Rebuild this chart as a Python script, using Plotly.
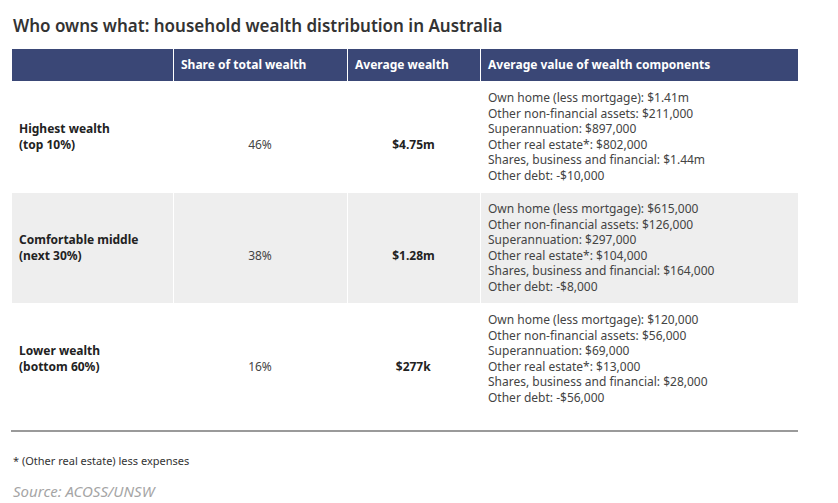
import plotly.graph_objects as go

W, H = 830, 495
OX, OY = 8, 8  # page body margin offset

# ---- data ----
groups = ["Highest wealth<br>(top 10%)", "Comfortable middle<br>(next 30%)", "Lower wealth<br>(bottom 60%)"]
share = ["46%", "38%", "16%"]
avg_wealth = ["$4.75m", "$1.28m", "$277k"]
comp_labels = ["Own home (less mortgage)", "Other non-financial assets", "Superannuation",
               "Other real estate*", "Shares, business and financial", "Other debt"]
comp_top = ["$1.41m", "$211,000", "$897,000", "$802,000", "$1.44m", "-$10,000"]
comp_mid = ["$615,000", "$126,000", "$297,000", "$104,000", "$164,000", "-$8,000"]
comp_low = ["$120,000", "$56,000", "$69,000", "$13,000", "$28,000", "-$56,000"]
headers = ["", "Share of total wealth", "Average wealth", "Average value of wealth components"]

title = "Who owns what: household wealth distribution in Australia"
footnote = "* (Other real estate) less expenses"
source = "Source: ACOSS/UNSW"

FONT = "Noto Sans"
SP = "\u00a0<br>"

def comp_text(vals):
    return "<br>".join(f"{l}: {v}" for l, v in zip(comp_labels, vals))

col_group = [SP * 2 + "<b>" + g + "</b>" for g in groups]
col_share = [SP * 3 + s for s in share]
col_avg = [SP * 3 + "<b>" + a + "</b>" for a in avg_wealth]
col_comp = [comp_text(c) for c in (comp_top, comp_mid, comp_low)]

fills = ["#ffffff", "#eeeeee", "#ffffff"]

col_w = [162, 174, 133, 318]
x0, x1 = 11 - OX, 798 - OX

def py(y):
    return 1 - (y - OY) / H

fig = go.Figure(go.Table(
    domain=dict(x=[x0 / W, x1 / W], y=[py(428), py(48)]),
    columnwidth=col_w,
    header=dict(
        values=["<b>" + h + "</b>" if h else "" for h in headers],
        fill_color="#3a4776",
        line=dict(color="white", width=1),
        font=dict(family=FONT, size=12, color="white"),
        align="left",
        height=27,
    ),
    cells=dict(
        values=[col_group, col_share, col_avg, col_comp],
        fill_color=[fills] * 4,
        line=dict(color="white", width=1),
        font=dict(family=FONT, size=12, color=["#222222", "#444444", "#222222", "#444444"]),
        align=["left", "center", "center", "left"],
        height=60,
    ),
))

fig.add_shape(type="line", xref="paper", yref="paper",
              x0=x0 / W, x1=x1 / W, y0=py(431), y1=py(431),
              line=dict(color="#9a9a9a", width=2))

fig.add_annotation(text=title, xref="paper", yref="paper", x=x0 / W, y=py(25),
                   xanchor="left", yanchor="middle", showarrow=False,
                   font=dict(family=FONT, size=17, color="#333333", weight=600))
fig.add_annotation(text=footnote, xref="paper", yref="paper", x=x0 / W, y=py(460),
                   xanchor="left", yanchor="middle", showarrow=False,
                   font=dict(family=FONT, size=11, color="#333333"))
fig.add_annotation(text="<i>" + source + "</i>", xref="paper", yref="paper", x=x0 / W, y=py(491),
                   xanchor="left", yanchor="middle", showarrow=False,
                   font=dict(family=FONT, size=15, color="#a5a5a5"))

fig.update_layout(width=W, height=H, margin=dict(l=0, r=0, t=0, b=0),
                  paper_bgcolor="white", plot_bgcolor="white")

fig.write_html("out.html")
